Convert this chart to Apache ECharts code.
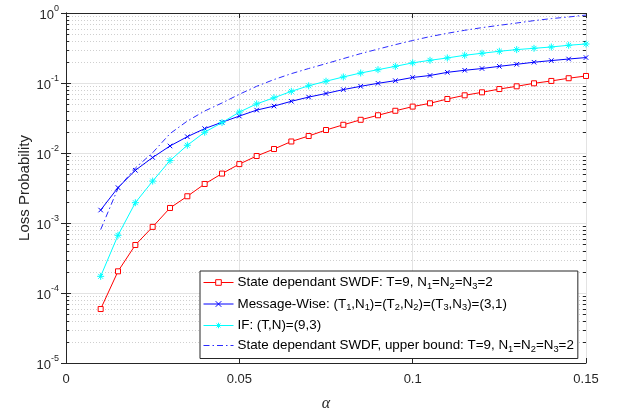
<!DOCTYPE html>
<html>
<head>
<meta charset="utf-8">
<script src="https://cdn.jsdelivr.net/npm/echarts@6/dist/echarts.min.js"></script>
<style>
  html, body { margin: 0; padding: 0; background: #fff; }
  #chart { width: 620px; height: 409px; }
</style>
</head>
<body>
<div id="chart"></div>
<script>
// alpha values on the x axis
const alpha = [0.01, 0.015, 0.02, 0.025, 0.03, 0.035, 0.04, 0.045, 0.05, 0.055,
  0.06, 0.065, 0.07, 0.075, 0.08, 0.085, 0.09, 0.095, 0.1, 0.105,
  0.11, 0.115, 0.12, 0.125, 0.13, 0.135, 0.14, 0.145, 0.15];

// State dependant SWDF: T=9, N1=N2=N3=2
const stateDependant = [5.9e-5, 2.04e-4, 4.85e-4, 8.8e-4, 1.64e-3, 2.41e-3, 3.61e-3, 5.08e-3, 6.94e-3, 9.06e-3,
  1.14e-2, 1.46e-2, 1.75e-2, 2.13e-2, 2.53e-2, 2.98e-2, 3.46e-2, 4.01e-2, 4.6e-2, 5.13e-2,
  5.91e-2, 6.67e-2, 7.36e-2, 8.2e-2, 8.97e-2, 9.9e-2, 0.107, 0.117, 0.126];

// Message-Wise: (T1,N1)=(T2,N2)=(T3,N3)=(3,1)
const messageWise = [1.53e-3, 3.2e-3, 5.66e-3, 8.63e-3, 1.26e-2, 1.71e-2, 2.23e-2, 2.75e-2, 3.37e-2, 4.1e-2,
  4.68e-2, 5.48e-2, 6.29e-2, 7.08e-2, 8.05e-2, 8.97e-2, 9.9e-2, 0.108, 0.12, 0.128,
  0.142, 0.152, 0.161, 0.173, 0.185, 0.198, 0.209, 0.22, 0.231];

// IF: (T,N)=(9,3)
const ifScheme = [1.73e-4, 6.67e-4, 1.95e-3, 3.97e-3, 7.79e-3, 1.29e-2, 1.98e-2, 2.72e-2, 3.84e-2, 5.03e-2,
  6.15e-2, 7.6e-2, 9.12e-2, 0.106, 0.122, 0.139, 0.155, 0.173, 0.194, 0.211,
  0.228, 0.249, 0.266, 0.284, 0.3, 0.313, 0.327, 0.346, 0.361];

// State dependant SWDF, upper bound
const upperBound = [8.05e-4, 3.13e-3, 6.1e-3, 1.01e-2, 1.89e-2, 2.86e-2, 3.98e-2, 5.18e-2, 6.9e-2, 8.97e-2,
  0.112, 0.136, 0.161, 0.189, 0.223, 0.263, 0.305, 0.353, 0.405, 0.46,
  0.513, 0.566, 0.618, 0.667, 0.719, 0.778, 0.832, 0.877, 0.935];

// axis tick labels
const xTickLabels = ['0', '0.05', '0.1', '0.15'];
const yExponents = [-5, -4, -3, -2, -1, 0];

const seriesNames = [
  'State dependant SWDF: T=9, N1=N2=N3=2',
  'Message-Wise: (T1,N1)=(T2,N2)=(T3,N3)=(3,1)',
  'IF: (T,N)=(9,3)',
  'State dependant SWDF, upper bound: T=9, N1=N2=N3=2'
];
// legend texts with subscripts
const legendRich = {};
legendRich[seriesNames[0]] = '{t|State dependant SWDF: T=9, N}{s|1}{t|=N}{s|2}{t|=N}{s|3}{t|=2}';
legendRich[seriesNames[1]] = '{t|Message-Wise: (T}{s|1}{t|,N}{s|1}{t|)=(T}{s|2}{t|,N}{s|2}{t|)=(T}{s|3}{t|,N}{s|3}{t|)=(3,1)}';
legendRich[seriesNames[2]] = '{t|IF: (T,N)=(9,3)}';
legendRich[seriesNames[3]] = '{t|State dependant SWDF, upper bound: T=9, N}{s|1}{t|=N}{s|2}{t|=N}{s|3}{t|=2}';

const FONT = 'Liberation Sans, Arial, Helvetica, sans-serif';
const INK = '#262626';

// minor decade positions 2..9 x 10^k for the dotted grid and small ticks
const minorTicks = [];
for (let k = -5; k < 0; k++) {
  for (let m = 2; m <= 9; m++) minorTicks.push([0, m * Math.pow(10, k)]);
}

function pairs(ys) { return alpha.map((x, i) => [x, ys[i]]); }

const chart = echarts.init(document.getElementById('chart'), null, { renderer: 'canvas' });

const xCommon = {
  type: 'value', min: 0, max: 0.15, interval: 0.05,
  axisLine: { show: true, lineStyle: { color: INK, width: 1 } },
  axisTick: { show: true, inside: true, length: 5, lineStyle: { color: INK } }
};
const yCommon = {
  type: 'log', logBase: 10, min: 1e-5, max: 1, splitNumber: 5,
  axisLine: { show: true, lineStyle: { color: INK, width: 1 } },
  axisTick: { show: true, inside: true, length: 5, lineStyle: { color: INK } },
  minorTick: { show: false }
};

chart.setOption({
  animation: false,
  backgroundColor: '#fff',
  grid: { left: 66, right: 34, top: 13, bottom: 46, containLabel: false, outerBoundsMode: 'none' },
  xAxis: [
    Object.assign({}, xCommon, {
      position: 'bottom',
      name: 'α', nameLocation: 'middle', nameGap: 33,
      nameTextStyle: { fontFamily: 'Liberation Serif, DejaVu Serif, serif', fontStyle: 'italic', fontSize: 16, color: INK },
      axisLabel: {
        margin: 10, fontFamily: FONT, fontSize: 13, color: INK,
        formatter: v => xTickLabels[Math.round(v / 0.05)]
      },
      splitLine: { show: true, lineStyle: { color: '#e3e3e3', width: 1 } }
    }),
    Object.assign({}, xCommon, {
      position: 'top', axisLabel: { show: false }, splitLine: { show: false }
    })
  ],
  yAxis: [
    Object.assign({}, yCommon, {
      position: 'left',
      name: 'Loss Probability', nameLocation: 'middle', nameGap: 34, nameMoveOverlap: false,
      nameTextStyle: { fontFamily: FONT, fontSize: 15, color: INK },
      axisLabel: {
        margin: 7, color: INK,
        formatter: v => {
          const e = Math.round(Math.log10(v));
          return yExponents.indexOf(e) >= 0 ? '{b|10}{e|' + e + '}' : '';
        },
        rich: {
          b: { fontFamily: FONT, fontSize: 13, color: INK, verticalAlign: 'bottom' },
          e: { fontFamily: FONT, fontSize: 9, color: INK, verticalAlign: 'top', padding: [0, 0, 9, 0] }
        }
      },
      splitLine: { show: true, lineStyle: { color: '#e3e3e3', width: 1 } }
    }),
    Object.assign({}, yCommon, {
      position: 'right', axisLabel: { show: false }, splitLine: { show: false }
    })
  ],
  legend: {
    data: [
      seriesNames[0], seriesNames[1], seriesNames[2],
      { name: seriesNames[3], itemStyle: { opacity: 0 } }
    ],
    orient: 'vertical',
    left: 200, top: 271,
    backgroundColor: '#fff',
    borderColor: INK, borderWidth: 1, borderRadius: 0,
    padding: [5, 4, 5, 3],
    itemGap: 7, itemWidth: 30, itemHeight: 7,
    lineStyle: { width: 1 },
    itemStyle: { borderWidth: 1 },
    formatter: name => legendRich[name],
    textStyle: {
      padding: [0, 0, 0, -1],
      rich: {
        t: { fontFamily: FONT, fontSize: 13.4, color: '#000' },
        s: { fontFamily: FONT, fontSize: 9.3, color: '#000', verticalAlign: 'bottom', padding: [7, 0, 0, 0] }
      }
    }
  },
  series: [
    {
      type: 'custom', name: 'minor', silent: true, z: 1, clip: false,
      data: minorTicks, encode: { x: 0, y: 1 },
      renderItem: (params, api) => {
        const p = api.coord([0, api.value(1)]);
        const cs = params.coordSys;
        const y = Math.round(p[1]) + 0.5;
        return {
          type: 'group',
          children: [
            { type: 'line', shape: { x1: cs.x, y1: y, x2: cs.x + cs.width, y2: y },
              style: { stroke: '#cfcfcf', lineWidth: 1, lineDash: [1, 2] } },
            { type: 'line', shape: { x1: cs.x, y1: y, x2: cs.x + 3, y2: y },
              style: { stroke: INK, lineWidth: 1 } },
            { type: 'line', shape: { x1: cs.x + cs.width - 3, y1: y, x2: cs.x + cs.width, y2: y },
              style: { stroke: INK, lineWidth: 1 } }
          ]
        };
      }
    },
    {
      name: seriesNames[0], type: 'line', z: 3, data: pairs(stateDependant),
      symbol: 'path://M0,0H10V10H0Z', symbolSize: 5,
      lineStyle: { color: '#ff0000', width: 1 },
      itemStyle: { color: '#ffffff', borderColor: '#ff0000', borderWidth: 1 }
    },
    {
      name: seriesNames[1], type: 'line', z: 3, data: pairs(messageWise),
      symbol: 'path://M0,0L10,10M10,0L0,10', symbolSize: 4.5,
      lineStyle: { color: '#0000ff', width: 1 },
      itemStyle: { color: '#0000ff', borderColor: '#0000ff', borderWidth: 1 }
    },
    {
      name: seriesNames[2], type: 'line', z: 3, data: pairs(ifScheme),
      symbol: 'path://M5,0L5,10M0,5L10,5M1.5,1.5L8.5,8.5M8.5,1.5L1.5,8.5', symbolSize: 7,
      lineStyle: { color: '#00ffff', width: 1 },
      itemStyle: { color: '#00ffff', borderColor: '#00ffff', borderWidth: 1 }
    },
    {
      name: seriesNames[3], type: 'line', z: 2, data: pairs(upperBound),
      symbol: 'circle', showSymbol: false,
      lineStyle: { color: '#2b2bff', width: 1, type: [6, 3, 1.5, 3] },
      itemStyle: { color: '#2b2bff' }
    }
  ]
});
</script>
</body>
</html>
